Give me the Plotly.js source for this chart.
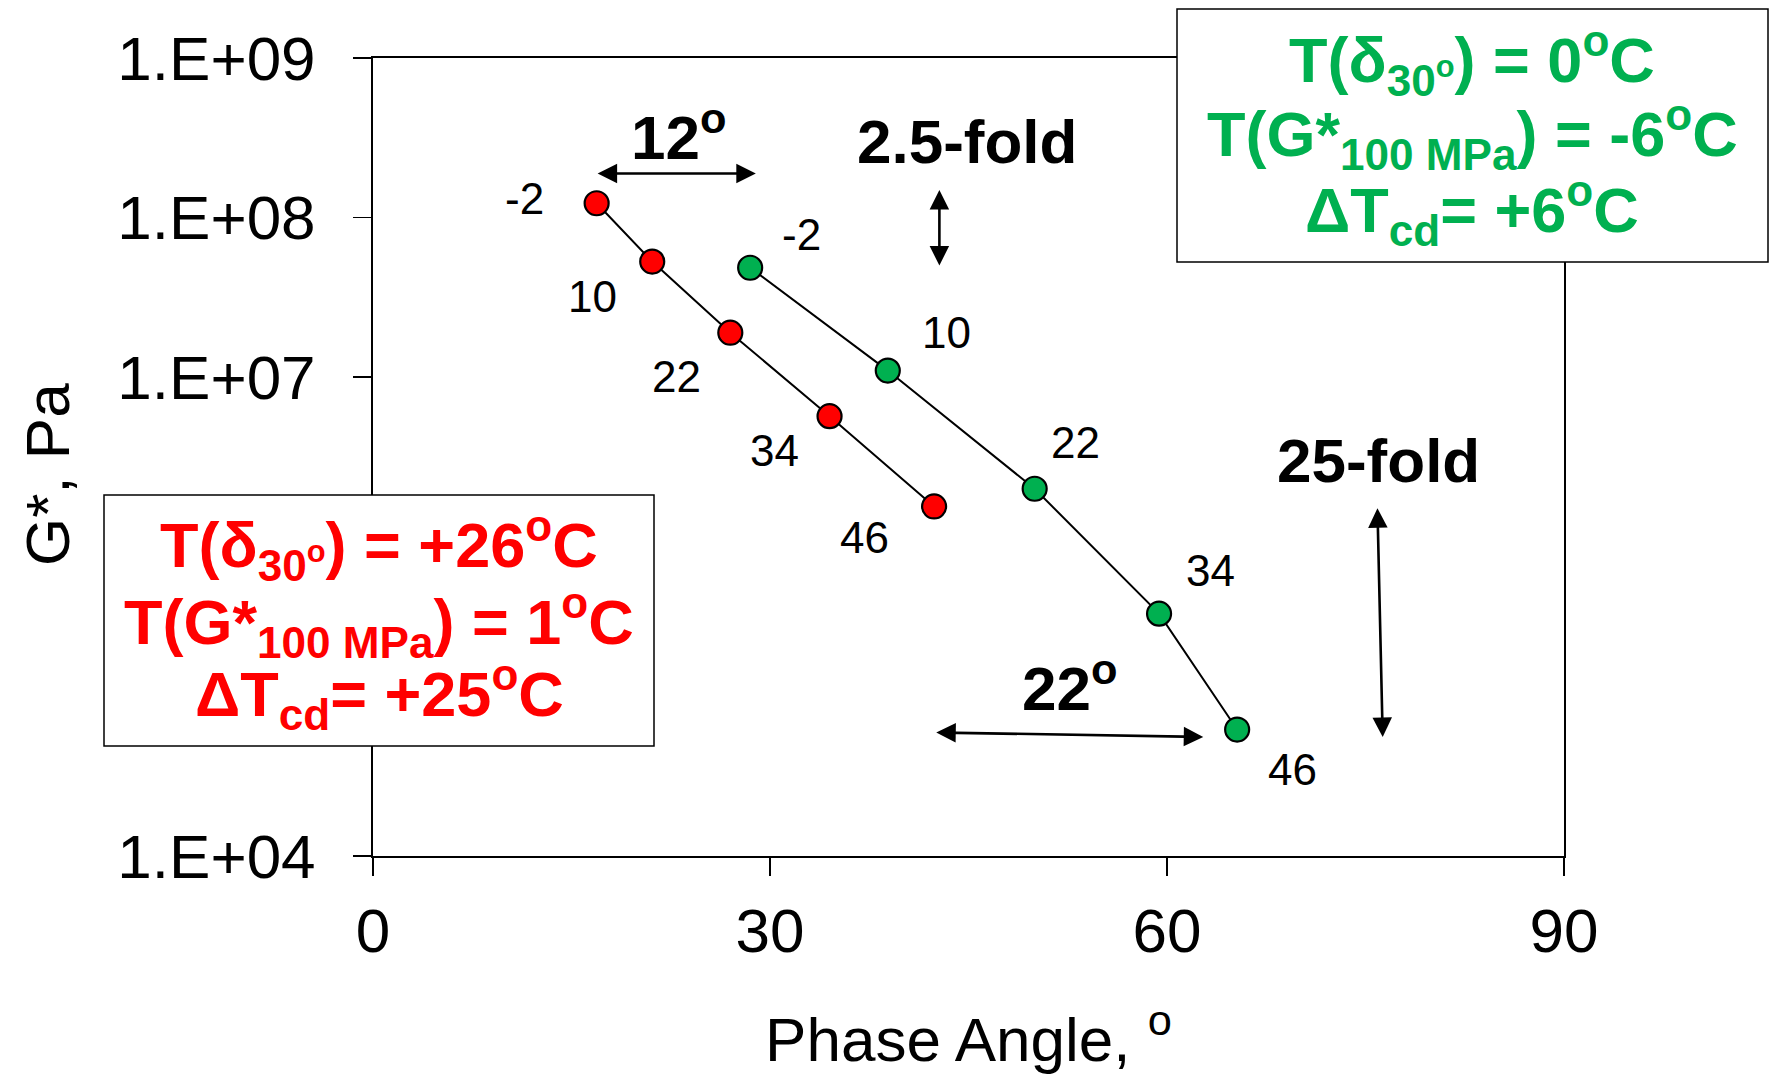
<!DOCTYPE html>
<html>
<head>
<meta charset="utf-8">
<script src="https://cdn.plot.ly/plotly-3.0.1.min.js"></script>
<style>html,body{margin:0;padding:0;background:#fff;}#chart{width:1775px;height:1074px;}</style>
</head>
<body>
<div id="chart"></div>
<script>
// ---- data ----
const tempLabels = ['-2', '10', '22', '34', '46'];
const phaseRed = [16.9, 21.1, 27.0, 34.5, 42.4];
const gRed = [1.23e8, 5.3e7, 1.9e7, 5.7e6, 1.55e6];
const phaseGreen = [28.5, 38.9, 50.0, 59.4, 65.3];
const gGreen = [4.85e7, 1.1e7, 2.0e6, 3.3e5, 6.2e4];
// 1.E+05 and 1.E+06 sit behind the red text box in the reference, so only these are visible
const yTickVals = [1e4, 1e7, 1e8, 1e9];
const yTickText = ['1.E+04', '1.E+07', '1.E+08', '1.E+09'];
const xTickVals = [0, 30, 60, 90];

const greenLines = [
  'T(δ<sub>30<sup>o</sup></sub>) = 0<sup>o</sup>C',
  'T(G*<sub>100 MPa</sub>) = -6<sup>o</sup>C',
  'ΔT<sub>cd</sub>= +6<sup>o</sup>C'
];
const redLines = [
  'T(δ<sub>30<sup>o</sup></sub>) = +26<sup>o</sup>C',
  'T(G*<sub>100 MPa</sub>) = 1<sup>o</sup>C',
  'ΔT<sub>cd</sub>= +25<sup>o</sup>C'
];

// ---- layout helpers (pixel -> paper) ----
const W = 1775, H = 1074;
const L = 373, R = 1564, T = 58, B = 856;
const px = x => (x - L) / (R - L);
const py = y => (B - y) / (B - T);

const RED = '#FF0000', GREEN = '#00B050';
const FONT = 'Liberation Sans, Arial, sans-serif';

const redOffsets = [[-72, 5], [-60, -35], [-54, -44], [-55, -34], [-70, -31]];
const greenOffsets = [[51, 33], [59, 38], [41, 46], [51, 43], [55, -40]];

const traces = [
  {
    x: phaseRed, y: gRed, type: 'scatter', mode: 'lines+markers',
    line: {color: '#000', width: 2},
    marker: {color: RED, size: 24, line: {color: '#000', width: 2.2}},
    showlegend: false, hoverinfo: 'x+y'
  },
  {
    x: phaseGreen, y: gGreen, type: 'scatter', mode: 'lines+markers',
    line: {color: '#000', width: 2},
    marker: {color: GREEN, size: 24, line: {color: '#000', width: 2.2}},
    showlegend: false, hoverinfo: 'x+y'
  }
];

const annotations = [];
function pointLabels(xs, ys, offs) {
  xs.forEach((x, i) => {
    annotations.push({
      x: x, y: Math.log10(ys[i]), xref: 'x', yref: 'y',
      text: tempLabels[i], showarrow: false,
      xshift: offs[i][0], yshift: offs[i][1],
      font: {family: FONT, size: 44, color: '#000'}
    });
  });
}
pointLabels(phaseRed, gRed, redOffsets);
pointLabels(phaseGreen, gGreen, greenOffsets);

// bold text annotations
function boldText(text, x, y) {
  annotations.push({x: x, y: y, xref: 'x', yref: 'y', text: '<b>' + text + '</b>',
    showarrow: false, font: {family: FONT, size: 62, color: '#000'}});
}
boldText('12<sup>o</sup>', 23.1, 8.53);
boldText('2.5-fold', 44.9, 8.474);
boldText('25-fold', 76.0, 6.479);
boldText('22<sup>o</sup>', 52.6, 5.075);

// double arrows
function dblArrow(x0, y0, x1, y1) {
  annotations.push({x: x1, y: y1, ax: x0, ay: y0, xref: 'x', yref: 'y', axref: 'x', ayref: 'y',
    text: '', showarrow: true, arrowhead: 2, startarrowhead: 2, arrowside: 'end+start',
    arrowsize: 1.5, startarrowsize: 1.5, arrowwidth: 2.6, arrowcolor: '#000', standoff: 0, startstandoff: 0});
}
dblArrow(16.86, 8.276, 28.93, 8.276);
dblArrow(42.8, 8.183, 42.8, 7.700);
dblArrow(75.9, 6.188, 76.3, 4.746);
dblArrow(42.45, 4.774, 62.74, 4.746);

// box texts
function boxLines(lines, cx, ys, color) {
  lines.forEach((t, i) => {
    annotations.push({x: px(cx), y: py(ys[i]), xref: 'paper', yref: 'paper',
      text: '<b>' + t + '</b>', showarrow: false, xanchor: 'center', yanchor: 'middle',
      font: {family: FONT, size: 63, color: color}});
  });
}
boxLines(greenLines, 1472, [60, 134, 210], GREEN);
boxLines(redLines, 379, [545, 622, 694], RED);

// y axis title (placed to match the reference's off-centre position)
annotations.push({x: px(48), y: py(475), xref: 'paper', yref: 'paper', text: 'G*, Pa',
  textangle: -90, showarrow: false, xanchor: 'center', yanchor: 'middle',
  font: {family: FONT, size: 62, color: '#000'}});

const shapes = [
  {type: 'rect', xref: 'paper', yref: 'paper', x0: px(1177), x1: px(1768), y0: py(262), y1: py(9),
   fillcolor: '#fff', line: {color: '#000', width: 1.5}, layer: 'above'},
  {type: 'rect', xref: 'paper', yref: 'paper', x0: px(104), x1: px(654), y0: py(746), y1: py(495),
   fillcolor: '#fff', line: {color: '#000', width: 1.5}, layer: 'above'}
];

const layout = {
  width: W, height: H,
  margin: {l: L, r: W - R, t: T, b: H - B, pad: 0},
  paper_bgcolor: '#fff', plot_bgcolor: '#fff',
  font: {family: FONT, color: '#000'},
  xaxis: {
    range: [0, 90], tickvals: xTickVals, ticks: 'outside', ticklen: 18, tickwidth: 1.5, tickcolor: '#000',
    showline: true, linecolor: '#000', linewidth: 2, mirror: true, showgrid: false, zeroline: false,
    tickfont: {family: FONT, size: 62, color: '#000'}, ticklabelstandoff: 2,
    title: {text: 'Phase Angle, <sup>o</sup>', font: {family: FONT, size: 62, color: '#000'}, standoff: 55},
    automargin: false
  },
  yaxis: {
    type: 'log', range: [4, 9], tickvals: yTickVals, ticktext: yTickText,
    ticks: 'outside', ticklen: 18, tickwidth: 1.5, tickcolor: '#000',
    showline: true, linecolor: '#000', linewidth: 2, mirror: true, showgrid: false, zeroline: false,
    tickfont: {family: FONT, size: 62, color: '#000'}, ticklabelstandoff: 25,
    automargin: false
  },
  annotations: annotations,
  shapes: shapes,
  showlegend: false
};

Plotly.newPlot('chart', traces, layout, {displayModeBar: false, staticPlot: true});
</script>
</body>
</html>
